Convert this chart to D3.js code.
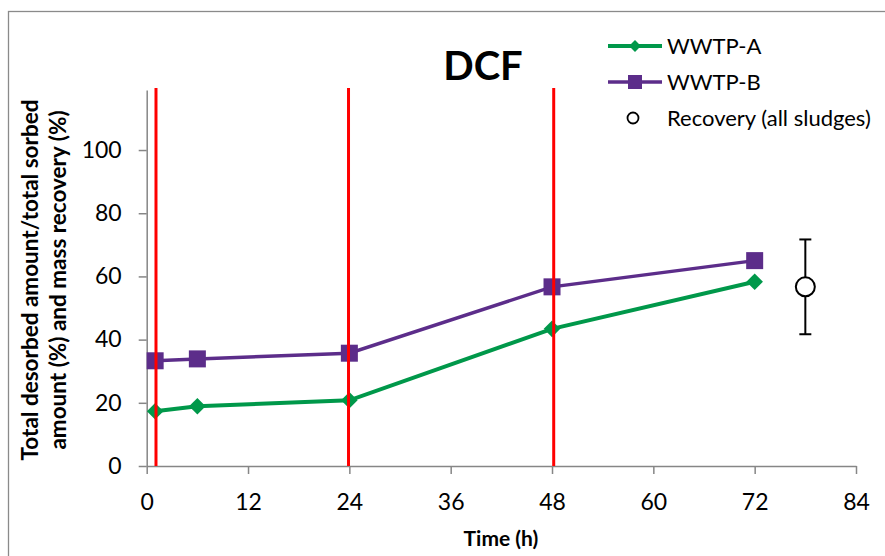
<!DOCTYPE html>
<html>
<head>
<meta charset="utf-8">
<script src="https://cdn.jsdelivr.net/npm/d3@7"></script>
<style>
  body { margin: 0; background: #fff; }
  svg { display: block; font-family: Lato, "Open Sans", sans-serif; }
</style>
</head>
<body>
<svg id="chart" width="885" height="556"></svg>
<script>
// Sampling times (h) and desorbed fractions (%)
const timesA = [1, 6, 24, 48, 72];
const wwtpA = [17.3, 18.9, 20.8, 43.4, 58.3];
const timesB = [1, 6, 24, 48, 72];
const wwtpB = [33.3, 33.9, 35.7, 56.7, 65.0];
// Mass recovery over all sludges, mean with error range
const recoveryX = [78];
const recoveryMean = [56.7];
const recoveryErr = [15];
// Phase boundaries marked with vertical red lines
const phaseLines = [1.1, 23.9, 48.2];
const xTicks = [0, 12, 24, 36, 48, 60, 72, 84];
const yTicks = [0, 20, 40, 60, 80, 100];

const svg = d3.select("#chart");
const W = 885, H = 556;
const plotLeft = 146.7, plotRight = 856, plotTop = 90, plotBottom = 466;

const x = d3.scaleLinear().domain([0, 84]).range([plotLeft, plotRight]);
const y = d3.scaleLinear().domain([0, 119]).range([plotBottom, plotTop]);

const axisGray = "#868686";
const green = "#00984A";
const purple = "#5C2D8A";

// chart frame
svg.append("rect")
  .attr("x", 8.5).attr("y", 11.5)
  .attr("width", W + 20).attr("height", H + 20)
  .attr("fill", "none").attr("stroke", "#8a8a8a").attr("stroke-width", 1.3);

// x axis
const gx = svg.append("g").attr("transform", `translate(0,${plotBottom})`)
  .call(d3.axisBottom(x).tickValues(xTicks).tickSize(8).tickSizeOuter(0).tickPadding(20));
gx.select(".domain").attr("stroke", axisGray).attr("stroke-width", 1.5);
gx.selectAll(".tick line").attr("stroke", axisGray).attr("stroke-width", 1.5);
gx.selectAll(".tick text").attr("font-size", 23).attr("fill", "#000")
  .attr("font-family", "Lato, sans-serif");

// y axis (line runs to the domain top; labels stop at 100)
const gy = svg.append("g").attr("transform", `translate(${plotLeft},0)`)
  .call(d3.axisLeft(y).tickValues(yTicks).tickSize(8).tickSizeOuter(0).tickPadding(17));
gy.select(".domain").attr("stroke", axisGray).attr("stroke-width", 1.5);
gy.selectAll(".tick line").attr("stroke", axisGray).attr("stroke-width", 1.5);
gy.selectAll(".tick text").attr("font-size", 23).attr("fill", "#000")
  .attr("font-family", "Lato, sans-serif");

// series lines
const lineGen = d3.line().x(d => x(d[0])).y(d => y(d[1]));
const ptsA = timesA.map((t, i) => [t, wwtpA[i]]);
const ptsB = timesB.map((t, i) => [t, wwtpB[i]]);

svg.append("path").datum(ptsB).attr("d", lineGen)
  .attr("fill", "none").attr("stroke", purple).attr("stroke-width", 3.5);
svg.append("path").datum(ptsA).attr("d", lineGen)
  .attr("fill", "none").attr("stroke", green).attr("stroke-width", 4);

// markers
const sq = 17;
svg.selectAll(".mB").data(ptsB).join("rect")
  .attr("x", d => x(d[0]) - sq / 2).attr("y", d => y(d[1]) - sq / 2)
  .attr("width", sq).attr("height", sq).attr("fill", purple);
const diamond = d3.symbol().type(d3.symbolDiamond2).size(175);
svg.selectAll(".mA").data(ptsA).join("path")
  .attr("d", diamond)
  .attr("transform", d => `translate(${x(d[0])},${y(d[1])})`)
  .attr("fill", green);

// recovery with error bar
recoveryX.forEach((rx, i) => {
  const cx = x(rx), m = recoveryMean[i], e = recoveryErr[i];
  const g = svg.append("g");
  g.append("line").attr("x1", cx).attr("x2", cx)
    .attr("y1", y(m + e)).attr("y2", y(m - e))
    .attr("stroke", "#000").attr("stroke-width", 2);
  [m + e, m - e].forEach(v => {
    g.append("line").attr("x1", cx - 6).attr("x2", cx + 6)
      .attr("y1", y(v)).attr("y2", y(v))
      .attr("stroke", "#000").attr("stroke-width", 2);
  });
  g.append("circle").attr("cx", cx).attr("cy", y(m)).attr("r", 9.5)
    .attr("fill", "#fff").attr("stroke", "#000").attr("stroke-width", 2);
});

// phase boundary lines
svg.selectAll(".phase").data(phaseLines).join("line")
  .attr("x1", d => x(d)).attr("x2", d => x(d))
  .attr("y1", y(0)).attr("y2", y(0) - 378)
  .attr("stroke", "#FF0000").attr("stroke-width", 3);

// title
svg.append("text").attr("x", 483).attr("y", 80)
  .attr("text-anchor", "middle").attr("font-weight", "bold")
  .attr("font-size", 40).text("DCF");

// axis titles
svg.append("text").attr("x", 501).attr("y", 546)
  .attr("text-anchor", "middle").attr("font-weight", "bold")
  .attr("font-size", 21).text("Time (h)");

const yt = svg.append("text")
  .attr("transform", "translate(38,280) rotate(-90)")
  .attr("text-anchor", "middle").attr("font-weight", "bold").attr("font-size", 22.5);
yt.append("tspan").attr("x", 0).attr("y", 0).text("Total desorbed amount/total sorbed");
yt.append("tspan").attr("x", 0).attr("y", 28).text("amount (%) and mass recovery (%)");

// legend
const leg = svg.append("g");
const legItems = [
  { label: "WWTP-A", y: 46, kind: "A" },
  { label: "WWTP-B", y: 82, kind: "B" },
  { label: "Recovery (all sludges)", y: 118, kind: "R" }
];
legItems.forEach(it => {
  if (it.kind === "A") {
    leg.append("line").attr("x1", 608).attr("x2", 662).attr("y1", it.y).attr("y2", it.y)
      .attr("stroke", green).attr("stroke-width", 4);
    leg.append("path").attr("d", d3.symbol().type(d3.symbolDiamond2).size(90)())
      .attr("transform", `translate(635,${it.y})`).attr("fill", green);
  } else if (it.kind === "B") {
    leg.append("line").attr("x1", 608).attr("x2", 662).attr("y1", it.y).attr("y2", it.y)
      .attr("stroke", purple).attr("stroke-width", 3.5);
    leg.append("rect").attr("x", 628).attr("y", it.y - 7).attr("width", 14).attr("height", 14)
      .attr("fill", purple);
  } else {
    leg.append("circle").attr("cx", 633).attr("cy", it.y).attr("r", 5.5)
      .attr("fill", "#fff").attr("stroke", "#000").attr("stroke-width", 1.8);
  }
  leg.append("text").attr("x", 667).attr("y", it.y + 7.5)
    .attr("font-size", 22).text(it.label);
});
</script>
</body>
</html>
